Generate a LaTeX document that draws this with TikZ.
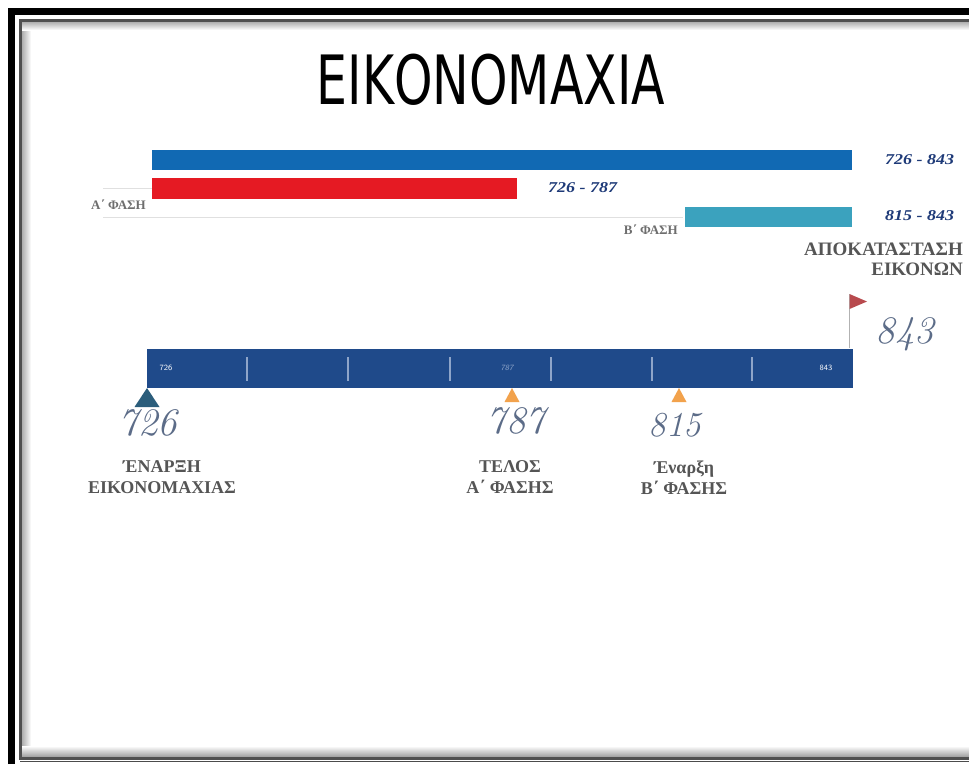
\documentclass[tikz,border=0pt]{standalone}
\usepackage{fontspec}
\newfontfamily\grk{Liberation Serif}
\newfontfamily\titlefont{DejaVu Sans}
\definecolor{barblue}{HTML}{1169B3}
\definecolor{barred}{HTML}{E51A23}
\definecolor{barteal}{HTML}{3BA2BE}
\definecolor{navy}{HTML}{1F4A8A}
\definecolor{tickc}{HTML}{8EA5C9}
\definecolor{labgray}{HTML}{555555}
\definecolor{handc}{HTML}{5C6C88}
\definecolor{rangec}{HTML}{1E3A78}
\definecolor{flagred}{HTML}{B84A4E}
\definecolor{orangem}{HTML}{F2A24C}
\definecolor{tealm}{HTML}{2B5D7B}
\definecolor{framegray}{HTML}{505050}
\tikzset{
  rangelab/.style={inner sep=0pt, text=rangec, font=\grk\bfseries\itshape\fontsize{15}{15}\selectfont},
  phaselab/.style={inner sep=0pt, text=labgray!85, font=\grk\bfseries\fontsize{13}{13}\selectfont},
  biglab/.style={inner sep=0pt, text=labgray, align=center, font=\grk\bfseries\fontsize{18}{21}\selectfont},
  handnum/.style={inner sep=0pt, text=handc, font=\itshape\fontsize{39}{39}\selectfont},
  barnum/.style={inner sep=0pt, text=white, font=\sffamily\fontsize{8}{8}\selectfont},
  tickline/.style={draw=tickc, line width=1.6pt},
  faint/.style={draw=black!12, line width=0.8pt}
}
\begin{document}
\begin{tikzpicture}[x=1pt,y=-1pt]
\useasboundingbox (0,0) rectangle (969,764);
\fill[white] (0,0) rectangle (969,764);
% frame shading
\shade[left color=black!35, right color=white] (21,21) rectangle (31,756);
\shade[top color=black!35, bottom color=white] (21,21) rectangle (969,30);
\shade[top color=white, bottom color=black!35] (21,746) rectangle (969,756);
% frame lines
\draw[black, line width=7pt] (11.5,764) -- (11.5,11.5) -- (969,11.5);
\draw[framegray, line width=3pt] (969,20) -- (20,20) -- (20,758) -- (969,758);
\draw[black!70, line width=1.5pt] (20,761.5) -- (969,761.5);
% title
\node[inner sep=0pt] (title) at (491,80) {\scalebox{0.72}[1]{\titlefont\fontsize{68}{70}\selectfont ΕΙΚΟΝΟΜΑΧΙΑ}};
% faint guide lines
\draw[faint] (103,188) -- (152,188);
\draw[faint] (103,217) -- (683,217);
% period bars
\fill[barblue] (152,150) rectangle (852,170);
\fill[barred] (152,178) rectangle (517,199);
\fill[barteal] (685,207) rectangle (852,227);
\node[rangelab, anchor=west] (r1) at (885,160) {\scalebox{1.2}[1]{726 - 843}};
\node[rangelab, anchor=west] (r2) at (548,188) {\scalebox{1.2}[1]{726 - 787}};
\node[rangelab, anchor=west] (r3) at (885,216) {\scalebox{1.2}[1]{815 - 843}};
\node[phaselab, anchor=east] (pa) at (146,205) {Α΄ ΦΑΣΗ};
\node[phaselab, anchor=east] (pb) at (678,230) {Β΄ ΦΑΣΗ};
\node[inner sep=0pt, text=labgray, align=right, anchor=north east, font=\grk\bfseries\fontsize{19}{20}\selectfont] (apok) at (963,243) {ΑΠΟΚΑΤΑΣΤΑΣΗ\\ΕΙΚΟΝΩΝ};
% flag
\draw[black!30, line width=1pt] (849,348) -- (849,294);
\fill[flagred] (849.5,294) -- (867,301.5) -- (849.5,309) -- cycle;
\node[handnum] (n843) at (905,334) {843};
% timeline bar
\fill[navy] (147,349) rectangle (853,388);
\foreach \x in {247,348,450,551,652,752}
  \draw[tickline] (\x,357) -- (\x,381);
\node[barnum] (b726) at (166,368) {726};
\node[barnum, text=tickc, font=\sffamily\itshape\fontsize{8}{8}\selectfont] (b787) at (507,368) {787};
\node[barnum] (b843) at (826,368) {843};
% markers
\fill[tealm] (147,388) -- (159.5,407) -- (134.5,407) -- cycle;
\fill[orangem] (512,388) -- (519.5,402) -- (504.5,402) -- cycle;
\fill[orangem] (679,388) -- (686.5,402) -- (671.5,402) -- cycle;
% hand numbers
\node[handnum] (n726) at (148,423) {726};
\node[handnum] (n787) at (516,421) {787};
\node[handnum, font=\itshape\fontsize{35}{35}\selectfont] (n815) at (675,425) {815};
% labels
\node[biglab] (l1) at (162,477) {ΈΝΑΡΞΗ\\ΕΙΚΟΝΟΜΑΧΙΑΣ};
\node[biglab] (l2) at (510,477) {ΤΕΛΟΣ\\Α΄ ΦΑΣΗΣ};
\node[biglab] (l3) at (684,478) {Έναρξη\\Β΄ ΦΑΣΗΣ};
\end{tikzpicture}
\end{document}
